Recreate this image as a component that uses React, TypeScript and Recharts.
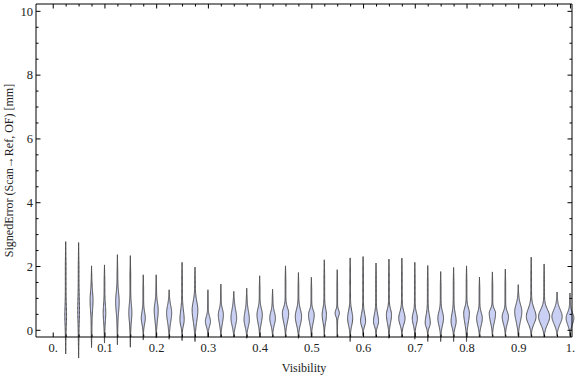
import React from 'react';
import { ComposedChart, Bar, Line, XAxis, YAxis } from 'recharts';

// ---- data ----
const visibility = [0.025, 0.05, 0.075, 0.1, 0.125, 0.15, 0.175, 0.2, 0.225, 0.25, 0.275, 0.3, 0.325, 0.35, 0.375, 0.4, 0.425, 0.45, 0.475, 0.5, 0.525, 0.55, 0.575, 0.6, 0.625, 0.65, 0.675, 0.7, 0.725, 0.75, 0.775, 0.8, 0.825, 0.85, 0.875, 0.9, 0.925, 0.95, 0.975, 1.0];
const errorMin = [-0.74, -0.87, -0.54, -0.4, -0.45, -0.53, -0.3, -0.24, -0.28, -0.32, -0.35, -0.21, -0.21, -0.21, -0.25, -0.21, -0.21, -0.21, -0.25, -0.21, -0.21, -0.21, -0.35, -0.17, -0.21, -0.25, -0.21, -0.28, -0.35, -0.35, -0.35, -0.35, -0.21, -0.17, -0.17, -0.17, -0.17, -0.21, -0.17, -0.17];
const errorMax = [2.78, 2.75, 2.02, 2.05, 2.37, 2.34, 1.74, 1.74, 1.27, 2.13, 1.98, 1.27, 1.45, 1.22, 1.32, 1.71, 1.29, 2.02, 1.81, 1.66, 2.21, 1.9, 2.27, 2.31, 2.11, 2.23, 2.26, 2.13, 2.03, 1.84, 1.97, 2.02, 1.67, 1.83, 1.92, 1.43, 2.29, 2.08, 1.2, 1.17];
const errorMode = [0.45, 0.6, 0.95, 0.55, 0.9, 0.55, 0.38, 0.64, 0.55, 0.33, 0.64, 0.28, 0.49, 0.38, 0.33, 0.49, 0.38, 0.54, 0.43, 0.49, 0.49, 0.54, 0.38, 0.28, 0.28, 0.49, 0.38, 0.38, 0.23, 0.38, 0.28, 0.54, 0.38, 0.54, 0.43, 0.59, 0.43, 0.43, 0.43, 0.38];
const bodyLow = [-0.1, -0.05, 0.25, 0.0, 0.2, 0.0, 0.0, 0.0, -0.04, -0.04, -0.09, -0.04, -0.04, -0.09, -0.09, -0.04, -0.04, -0.04, -0.09, -0.04, 0.02, 0.33, -0.09, -0.04, -0.04, -0.04, -0.04, -0.04, -0.04, -0.09, -0.09, -0.09, -0.09, -0.04, -0.04, -0.04, -0.04, -0.09, -0.04, -0.04];
const bodyHigh = [1.1, 1.5, 1.5, 1.1, 1.5, 1.1, 0.8, 1.1, 1.02, 0.95, 1.2, 0.6, 0.85, 0.95, 0.9, 0.9, 0.8, 0.9, 0.9, 0.8, 0.9, 0.75, 0.85, 0.75, 0.75, 0.85, 0.8, 0.75, 0.75, 0.8, 0.8, 0.9, 0.75, 0.8, 0.75, 1.06, 0.95, 0.9, 0.9, 0.75];
const peakDensity = [0.17, 0.17, 0.27, 0.24, 0.32, 0.28, 0.36, 0.36, 0.45, 0.38, 0.5, 0.45, 0.45, 0.5, 0.47, 0.47, 0.5, 0.55, 0.55, 0.5, 0.38, 0.38, 0.45, 0.45, 0.45, 0.45, 0.55, 0.45, 0.45, 0.5, 0.45, 0.5, 0.5, 0.55, 0.55, 0.62, 0.83, 0.95, 0.88, 0.67];

const xMajorTicks = [0, 0.1, 0.2, 0.3, 0.4, 0.5, 0.6, 0.7, 0.8, 0.9, 1.0];
const xTickLabels = ['0.', '0.1', '0.2', '0.3', '0.4', '0.5', '0.6', '0.7', '0.8', '0.9', '1.'];
const yMajorTicks = [0, 2, 4, 6, 8, 10];
const yTickLabels = ['0', '2', '4', '6', '8', '10'];

const xAllTicks = Array.from({ length: 41 }, (_, i) => +(i * 0.025).toFixed(3));
const yAllTicks = Array.from({ length: 21 }, (_, i) => i * 0.5);

const X_DOMAIN: [number, number] = [-0.0333, 1.003];
const Y_DOMAIN: [number, number] = [-0.21, 10.23];

const data = visibility.map((v, i) => ({
  x: v,
  range: [0, errorMax[i]],
  min: errorMin[i],
  max: errorMax[i],
  mode: errorMode[i],
  lo: bodyLow[i],
  hi: bodyHigh[i],
  peak: peakDensity[i],
}));

const FONT = '"Liberation Serif", "Times New Roman", serif';
const TICK_COLOR = '#222';

const near = (a: number, b: number) => Math.abs(a - b) < 1e-6;
const findIdx = (arr: number[], v: number) => arr.findIndex((t) => near(t, v));

const ViolinShape = (props: any) => {
  const { x, y, width, height, payload } = props;
  if (!payload || width == null) return null;
  const top = Math.min(y, y + height);
  const h = Math.abs(height);
  const pxPerUnit = h / (payload.max - 0);
  const toY = (v: number) => top + (payload.max - v) * pxPerUnit;
  const cx = x + width / 2;
  const peakPx = Math.max(0, (payload.peak * width) / 2 - 0.5);
  const { min, max, mode, lo, hi } = payload;
  const sLo = Math.max(0.03, (mode - lo) / 2.2);
  const sHi = Math.max(0.03, (hi - mode) / 2.2);
  const N = 90;
  const pts: [number, number][] = [];
  for (let k = 0; k <= N; k++) {
    const v = min + ((max - min) * k) / N;
    const t = k / N;
    const taper = Math.min(1, Math.min(t, 1 - t) / 0.2);
    const tail = 0.35 * taper;
    const s = v < mode ? sLo : sHi;
    const bump = Math.exp(-0.5 * ((v - mode) / s) ** 2);
    pts.push([v, tail + peakPx * bump]);
  }
  let d = '';
  pts.forEach(([v, w], k) => {
    d += `${k === 0 ? 'M' : 'L'}${(cx + w).toFixed(2)},${toY(v).toFixed(2)}`;
  });
  for (let k = pts.length - 1; k >= 0; k--) {
    const [v, w] = pts[k];
    d += `L${(cx - w).toFixed(2)},${toY(v).toFixed(2)}`;
  }
  d += 'Z';
  return <path d={d} fill="#c9d0f3" stroke="#4a4a4a" strokeWidth={1} strokeLinejoin="round" />;
};

const BottomTick = (props: any) => {
  const { x, y, payload } = props;
  const v = payload.value;
  const idx = findIdx(xMajorTicks, v);
  const major = idx >= 0;
  return (
    <g>
      <line x1={x} x2={x} y1={y} y2={y - (major ? 4.5 : 2.5)} stroke="#000" />
      {major && (
        <text x={x} y={y + 15} textAnchor="middle" fontFamily={FONT} fontSize={12.5} fill={TICK_COLOR}>
          {xTickLabels[idx]}
        </text>
      )}
    </g>
  );
};

const TopTick = (props: any) => {
  const { x, y, payload } = props;
  const major = findIdx(xMajorTicks, payload.value) >= 0;
  return <line x1={x} x2={x} y1={y} y2={y + (major ? 4.5 : 2.5)} stroke="#000" />;
};

const LeftTick = (props: any) => {
  const { x, y, payload } = props;
  const idx = findIdx(yMajorTicks, payload.value);
  const major = idx >= 0;
  return (
    <g>
      <line x1={x} x2={x + (major ? 4.5 : 2.5)} y1={y} y2={y} stroke="#000" />
      {major && (
        <text x={x - 3} y={y + 4.3} textAnchor="end" fontFamily={FONT} fontSize={12.5} fill={TICK_COLOR}>
          {yTickLabels[idx]}
        </text>
      )}
    </g>
  );
};

const RightTick = (props: any) => {
  const { x, y, payload } = props;
  const major = findIdx(yMajorTicks, payload.value) >= 0;
  return <line x1={x} x2={x - (major ? 4.5 : 2.5)} y1={y} y2={y} stroke="#000" />;
};

const XLabel = (props: any) => {
  const vb = props.viewBox || {};
  const cx = vb.x + vb.width / 2;
  return (
    <text x={cx} y={vb.y + 34.5} textAnchor="middle" fontFamily={FONT} fontSize={12} fill={TICK_COLOR}>
      Visibility
    </text>
  );
};

const YLabel = (props: any) => {
  const vb = props.viewBox || {};
  const cx = vb.x + 13;
  const cy = vb.y + vb.height / 2;
  return (
    <text
      x={cx}
      y={cy}
      transform={`rotate(-90, ${cx}, ${cy})`}
      textAnchor="middle"
      fontFamily={FONT}
      fontSize={12}
      fill={TICK_COLOR}
    >
      SignedError (Scan→Ref, OF) [mm]
    </text>
  );
};

const axisLineStyle = { stroke: '#000', strokeWidth: 1 };

export default function App() {
  return (
    <div style={{ position: 'absolute', left: 0, top: 0, width: 576, height: 377, background: '#fff' }}>
      <ComposedChart width={576} height={377} data={data} margin={{ top: 3, right: 3, bottom: 0, left: 0 }}>
        <XAxis
          xAxisId="b"
          type="number"
          dataKey="x"
          orientation="bottom"
          domain={X_DOMAIN}
          ticks={xAllTicks}
          interval={0}
          tickSize={0}
          tickMargin={0}
          tickLine={false}
          axisLine={axisLineStyle}
          tick={(p: any) => <BottomTick {...p} />}
          height={40}
          label={<XLabel />}
        />
        <XAxis
          xAxisId="t"
          type="number"
          dataKey="x"
          orientation="top"
          domain={X_DOMAIN}
          ticks={xAllTicks}
          interval={0}
          tickSize={0}
          tickMargin={0}
          tickLine={false}
          axisLine={axisLineStyle}
          tick={(p: any) => <TopTick {...p} />}
          height={1}
        />
        <YAxis
          yAxisId="l"
          type="number"
          orientation="left"
          domain={Y_DOMAIN}
          ticks={yAllTicks}
          interval={0}
          tickSize={0}
          tickMargin={0}
          tickLine={false}
          axisLine={axisLineStyle}
          tick={(p: any) => <LeftTick {...p} />}
          width={36}
          label={<YLabel />}
        />
        <YAxis
          yAxisId="r"
          type="number"
          orientation="right"
          domain={Y_DOMAIN}
          ticks={yAllTicks}
          interval={0}
          tickSize={0}
          tickMargin={0}
          tickLine={false}
          axisLine={axisLineStyle}
          tick={(p: any) => <RightTick {...p} />}
          width={1}
        />
        <Line
          xAxisId="t"
          yAxisId="r"
          dataKey="mode"
          stroke="none"
          dot={false}
          activeDot={false}
          legendType="none"
          isAnimationActive={false}
        />
        <Bar
          xAxisId="b"
          yAxisId="l"
          dataKey="range"
          barSize={12}
          shape={(p: any) => <ViolinShape {...p} />}
          isAnimationActive={false}
        />
      </ComposedChart>
    </div>
  );
}
